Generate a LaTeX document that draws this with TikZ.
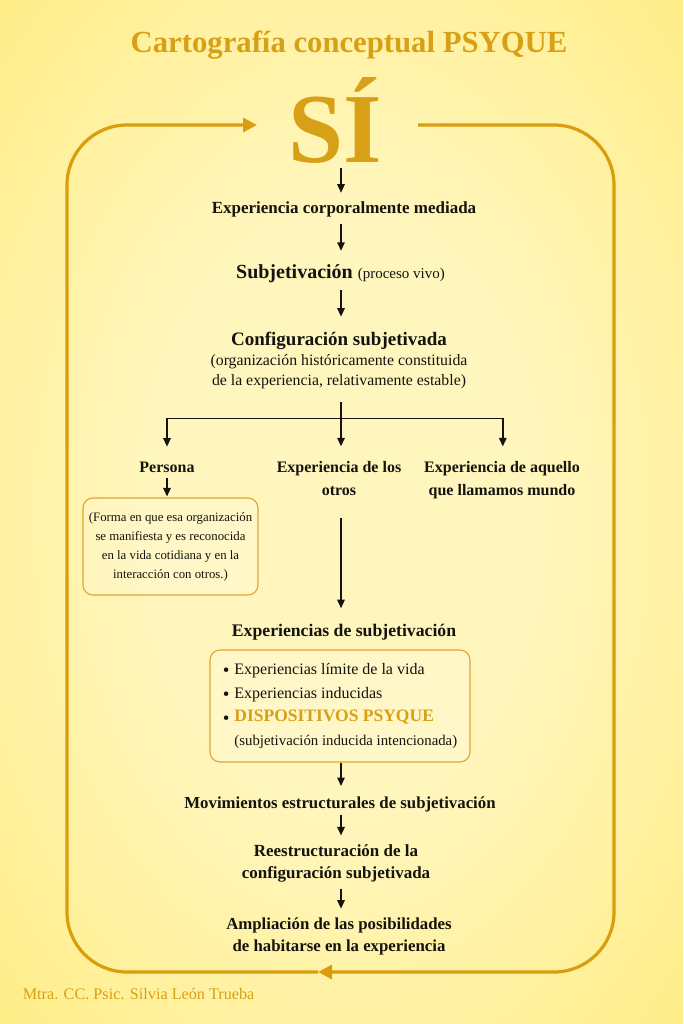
\documentclass[tikz,border=0pt]{standalone}
\usepackage{fontspec}
\setmainfont{Liberation Serif}
\usetikzlibrary{arrows.meta}
\definecolor{gold}{HTML}{D8A016}
\definecolor{goldline}{HTML}{D99E0E}
\definecolor{boxline}{HTML}{E0A630}
\definecolor{ink}{HTML}{15130D}
\definecolor{bgin}{HTML}{FFF6BE}
\definecolor{bgmid}{HTML}{FFEE8C}
\definecolor{bgedge}{HTML}{FFE24A}
\definecolor{bgout}{HTML}{FFDA30}
\pgfdeclareradialshading{bgshade}{\pgfpoint{0bp}{0bp}}{color(0bp)=(bgin); color(14bp)=(bgin); color(34bp)=(bgmid); color(50bp)=(bgedge); color(71bp)=(bgout)}
\newcommand{\myfs}[2]{\fontsize{#1}{#2}\selectfont}
\newcommand{\mybul}{\raisebox{-2.2pt}{\myfs{19}{23.7}\textbullet}\hspace{5pt}}
\begin{document}
\begin{tikzpicture}[x=1pt,y=-1pt,
 txt/.style={inner sep=0pt, text=ink, align=center},
 hd/.style={txt, font=\bfseries\myfs{17}{21.7}},
 flow/.style={draw=ink, line width=1.4pt, -{Triangle[length=8.5pt,width=7.5pt]}},
 loopline/.style={draw=goldline, line width=3.2pt, rounded corners=60pt},
 gtip/.style={-{Triangle[length=14pt,width=14pt]}},
 gbox/.style={draw=boxline, line width=1.1pt, rounded corners=10pt, fill=white, fill opacity=0.15, text opacity=1, inner sep=0pt}
]
\useasboundingbox (0,0) rectangle (683,1024);
\shade[shading=bgshade] (0,0) rectangle (683,1024);

\node[txt, anchor=base, text=gold, font=\bfseries\myfs{30.7}{36}] (title) at (349,53) {Cartografía conceptual PSYQUE};
\node[txt, anchor=base, text=gold, font=\bfseries\myfs{99}{100}] (si) at (335.5,163) {SÍ};
\node[hd, anchor=base] (n1) at (344,214) {Experiencia corporalmente mediada};
\node[txt, anchor=base] (n2) at (340.5,278.3) {{\bfseries\myfs{20}{24}Subjetivación }{\myfs{15}{18}(proceso vivo)}};
\node[txt, anchor=base, font=\bfseries\myfs{19}{23}] (n3) at (339,345) {Configuración subjetivada};
\node[txt, font=\myfs{15.8}{20}] (org) at (339,371.3) {(organización históricamente constituida\\de la experiencia, relativamente estable)};
\coordinate (axis) at (341,0);
\coordinate (fork) at (341,418.3);
\node[txt, anchor=base, font=\bfseries\myfs{16}{22.3}] (per) at (167,472.7) {Persona};
\node[txt, font=\bfseries\myfs{16}{22.3}] (oth) at (339,478.5) {Experiencia de los\\otros};
\node[txt, font=\bfseries\myfs{16}{22.3}] (mun) at (502,480.2) {Experiencia de aquello\\que llamamos mundo};
\node[gbox, minimum width=175pt, minimum height=97pt, text=ink, align=center, font=\myfs{12.8}{19}] (pbox) at (170.5,546.5) {(Forma en que esa organización\\se manifiesta y es reconocida\\en la vida cotidiana y en la\\interacción con otros.)};
\node[txt, anchor=base, font=\bfseries\myfs{17.7}{22}] (esub) at (344,636.7) {Experiencias de subjetivación};
\node[gbox, minimum width=260pt, minimum height=112pt, text=ink, align=left, font=\myfs{16}{23.7}] (ebox) at (340,706) {\mybul Experiencias límite de la vida\\ \mybul Experiencias inducidas\\ \mybul{\color{gold}\bfseries\myfs{17.5}{23.7}DISPOSITIVOS PSYQUE}\\ \phantom{\mybul}{\myfs{14.8}{23.7}(subjetivación inducida intencionada)}};
\node[txt, anchor=base, font=\bfseries\myfs{16.8}{21.7}] (mov) at (340,808.3) {Movimientos estructurales de subjetivación};
\node[txt, font=\bfseries\myfs{17}{21.6}] (rees) at (336,863.7) {Reestructuración de la\\configuración subjetivada};
\node[txt, font=\bfseries\myfs{16.8}{21.7}] (ampl) at (339,936.4) {Ampliación de las posibilidades\\de habitarse en la experiencia};
\node[txt, anchor=base west, text=gold, font=\myfs{16.2}{20}] (auth) at (22.6,999) {Mtra. CC. Psic. Silvia León Trueba};

% loop
\coordinate (lr) at (418,125);
\coordinate (ll) at (257,125);
\coordinate (lb) at (318,972);
\draw[loopline, gtip] (lr) -- (614,125) -- (614,972) -- (lb);
\draw[loopline, gtip] (lb) -- (67,972) -- (67,125) -- (ll);

% flow arrows
\draw[flow, shorten <=3.6pt, shorten >=9.3pt] (si.south -| axis) -- (n1.north -| axis);
\draw[flow, shorten <=6.3pt, shorten >=13.4pt] (n1.south -| axis) -- (n2.north -| axis);
\draw[flow, shorten <=7.4pt, shorten >=14.8pt] (n2.south -| axis) -- (n3.north -| axis);
\draw[flow, shorten <=13.2pt, shorten >=15.2pt] (org.south -| axis) -- (oth.north -| axis);
\draw[flow, shorten >=15.4pt] (fork) -| (per.north);
\draw[flow, shorten >=15.2pt] (fork) -| (mun.north -| 502.8,0);
\draw[flow, shorten <=5.1pt, shorten >=1pt] (per.south) -- (pbox.north -| per.south);
\draw[flow, shorten <=22.8pt, shorten >=16pt] (oth.south -| axis) -- (esub.north -| axis);
\draw[flow, shorten <=0.7pt, shorten >=10.4pt] (ebox.south -| axis) -- (mov.north -| axis);
\draw[flow, shorten <=3pt, shorten >=9.5pt] (mov.south -| axis) -- (rees.north -| axis);
\draw[flow, shorten <=6.1pt, shorten >=9.1pt] (rees.south -| axis) -- (ampl.north -| axis);
\end{tikzpicture}
\end{document}
